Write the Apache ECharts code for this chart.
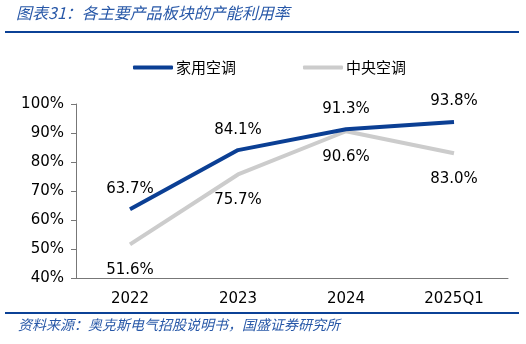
<!DOCTYPE html>
<html>
<head>
<meta charset="utf-8">
<script src="https://cdn.jsdelivr.net/npm/echarts@6/dist/echarts.min.js"></script>
<style>
  html, body { margin: 0; padding: 0; background: #fff; }
  #chart { width: 526px; height: 344px; }
</style>
</head>
<body>
<div id="chart"></div>
<script>
// Capacity utilisation by product segment
const categories = ['2022', '2023', '2024', '2025Q1'];
const homeAC = [63.7, 84.1, 91.3, 93.8];
const centralAC = [51.6, 75.7, 90.6, 83.0];
const seriesNames = ['家用空调', '中央空调'];
const titleText = '图表31：各主要产品板块的产能利用率';
const sourceText = '资料来源：奥克斯电气招股说明书，国盛证券研究所';

const BLUE = '#0b3f94';
const GRAY = '#cccccc';
const NUM_FONT = 'DejaVu Sans, Verdana, sans-serif';
const CJK_FONT = '"Noto Sans CJK SC", sans-serif';

const chart = echarts.init(document.getElementById('chart'));

function pct(p) { return p.value.toFixed(1) + '%'; }

chart.setOption({
  backgroundColor: '#fff',
  animation: false,
  graphic: [
    { type: 'text', left: 16, top: 5,
      style: { text: titleText, fill: '#2858a8', font: 'italic 16px ' + CJK_FONT } },
    { type: 'rect', shape: { x: 5, y: 31, width: 514, height: 2 }, style: { fill: '#0b4196' } },
    { type: 'rect', shape: { x: 5, y: 312, width: 514, height: 2 }, style: { fill: '#0b4196' } },
    { type: 'text', left: 18, top: 318,
      style: { text: sourceText, fill: '#2858a8', font: 'italic 14px ' + CJK_FONT } }
  ],
  legend: {
    top: 55,
    left: 128,
    itemWidth: 40,
    itemHeight: 4,
    itemGap: 67,
    icon: 'roundRect',
    data: [
      { name: seriesNames[0], itemStyle: { color: BLUE, opacity: 1 } },
      { name: seriesNames[1], itemStyle: { color: GRAY, opacity: 1 } }
    ],
    textStyle: { fontFamily: CJK_FONT, fontSize: 15, color: '#000', padding: [0, 0, 0, -2] }
  },
  grid: { left: 76, right: 18, top: 104, bottom: 66 },
  xAxis: {
    type: 'category',
    data: categories,
    boundaryGap: true,
    axisLine: { lineStyle: { color: '#777', width: 1 } },
    axisTick: { inside: true, length: 4, lineStyle: { color: '#777' } },
    axisLabel: { fontFamily: NUM_FONT, fontSize: 15, color: '#000', margin: 14 }
  },
  yAxis: {
    type: 'value',
    min: 40,
    max: 100,
    interval: 10,
    axisLine: { show: true, lineStyle: { color: '#777', width: 1 } },
    axisTick: { show: true, length: 5, lineStyle: { color: '#777' } },
    splitLine: { show: false },
    axisLabel: { fontFamily: NUM_FONT, fontSize: 15, color: '#000', margin: 12,
                 formatter: v => v + '%' }
  },
  series: [
    {
      name: seriesNames[0],
      type: 'line',
      data: homeAC,
      symbol: 'circle',
      symbolSize: 0,
      showSymbol: true,
      itemStyle: { color: BLUE },
      lineStyle: { width: 4, color: BLUE },
      z: 3,
      label: { show: true, position: 'top', distance: 13, fontFamily: NUM_FONT, fontSize: 15,
               color: '#000', formatter: pct }
    },
    {
      name: seriesNames[1],
      type: 'line',
      data: centralAC,
      symbol: 'circle',
      symbolSize: 0,
      showSymbol: true,
      itemStyle: { color: GRAY },
      lineStyle: { width: 4, color: GRAY },
      z: 2,
      label: { show: true, position: 'bottom', distance: 18, fontFamily: NUM_FONT, fontSize: 15,
               color: '#000', formatter: pct }
    }
  ]
});
</script>
</body>
</html>
